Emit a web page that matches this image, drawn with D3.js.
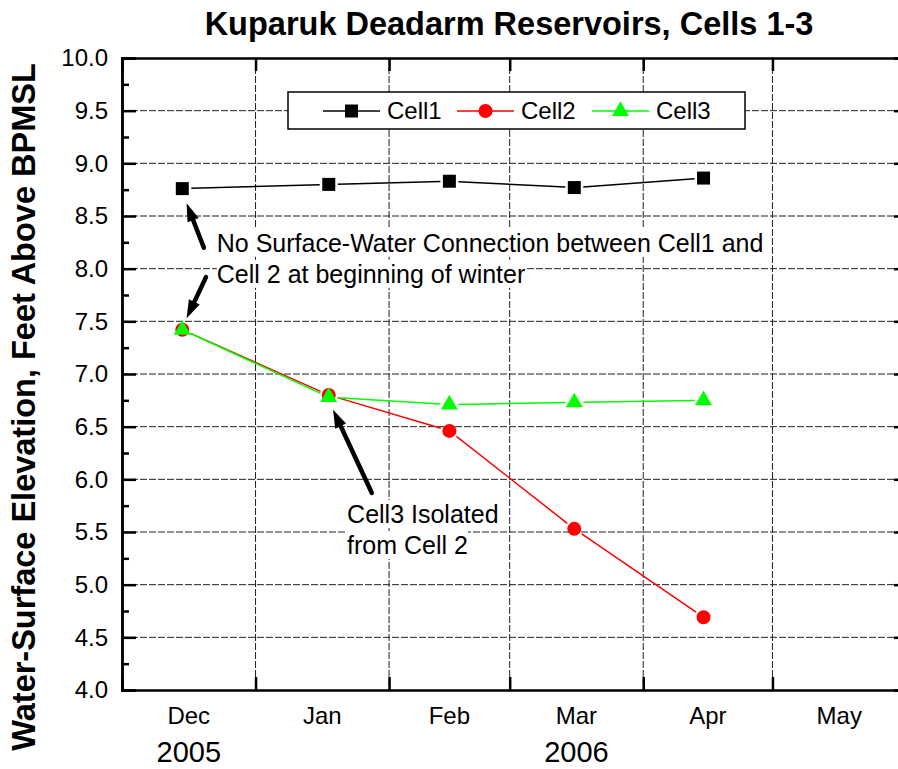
<!DOCTYPE html>
<html>
<head>
<meta charset="utf-8">
<script src="https://cdn.jsdelivr.net/npm/d3@7"></script>
<style>
  body { margin: 0; background: #fff; }
  svg { display: block; font-family: "Liberation Sans", Arial, sans-serif; }
</style>
</head>
<body>
<div id="chart"></div>
<script>
// values
var sampleDates = ["2005-12-15", "2006-01-18", "2006-02-15", "2006-03-16", "2006-04-15"];
var cell1 = [8.76, 8.80, 8.83, 8.77, 8.86];
var cell2 = [7.42, 6.80, 6.46, 5.53, 4.69];
var cell3 = [7.42, 6.78, 6.71, 6.73, 6.75];
var seriesNames = ["Cell1", "Cell2", "Cell3"];
var monthLabels = ["Dec", "Jan", "Feb", "Mar", "Apr", "May"];
var yearLabels = ["2005", "2006"];
var yearUnder = ["Dec", "Mar"];

// annotations, in data units
var note1Lines = ["No Surface-Water Connection between Cell1 and", "Cell 2 at beginning of winter"];
var note1At = ["2005-12-23T00:00Z", 8.16];
var note2Lines = ["Cell3 Isolated", "from Cell 2"];
var note2At = ["2006-01-22T06:00Z", 5.585];
var arrows = [
  { from: ["2005-12-20T00:00Z", 8.20], to: ["2005-12-16T00:00Z", 8.62] },
  { from: ["2005-12-20T12:00Z", 7.92], to: ["2005-12-16T00:00Z", 7.53] },
  { from: ["2006-01-28T00:00Z", 5.87], to: ["2006-01-19T00:00Z", 6.66] }
];

//create svg canvas
var svgWidth = 898;
var svgHeight = 769;
var margin = { top: 58, right: -8, bottom: 79, left: 122 };
var width = svgWidth - margin.left - margin.right;
var height = svgHeight - margin.top - margin.bottom;

var svg = d3.select("#chart")
  .append("svg")
  .attr("width", svgWidth)
  .attr("height", svgHeight);

var chartGroup = svg.append("g")
  .attr("transform", `translate(${margin.left}, ${margin.top})`);

// scales
var xScale = d3.scaleUtc()
  .domain([new Date("2005-12-01"), new Date("2006-06-01")])
  .range([0, width]);

var yScale = d3.scaleLinear()
  .domain([4, 10])
  .range([height, 0]);

var months = d3.utcMonth.range(new Date("2005-12-01"), new Date("2006-06-01"));
var majorY = d3.range(4, 10.01, 0.5);
var minorY = d3.range(4.25, 10, 0.5);

// gridlines
chartGroup.append("g").selectAll("line")
  .data(months.slice(1))
  .enter()
  .append("line")
  .attr("x1", d => xScale(d))
  .attr("x2", d => xScale(d))
  .attr("y1", 0)
  .attr("y2", height)
  .attr("stroke", "#222")
  .attr("stroke-width", 1)
  .attr("stroke-dasharray", "7,2");

chartGroup.append("g").selectAll("line")
  .data(majorY.slice(1, -1))
  .enter()
  .append("line")
  .attr("x1", 0)
  .attr("x2", width)
  .attr("y1", d => yScale(d))
  .attr("y2", d => yScale(d))
  .attr("stroke", "#222")
  .attr("stroke-width", 1)
  .attr("stroke-dasharray", "7,2");

// axes
var leftAxis = d3.axisLeft(yScale)
  .tickValues(majorY)
  .tickSize(-14)
  .tickPadding(14)
  .tickFormat(d3.format(".1f"));

var leftGroup = chartGroup.append("g").call(leftAxis);
leftGroup.selectAll("text").style("font-size", "24px").attr("fill", "#000");

chartGroup.append("g")
  .call(d3.axisLeft(yScale).tickValues(minorY).tickSize(-7).tickFormat(""));

chartGroup.append("g")
  .attr("transform", `translate(${width}, 0)`)
  .call(d3.axisRight(yScale).tickValues(majorY).tickSize(-12).tickFormat(""));

chartGroup.append("g")
  .attr("transform", `translate(0, ${height})`)
  .call(d3.axisBottom(xScale).tickValues(months).tickSize(-13).tickFormat(""));

chartGroup.append("g")
  .call(d3.axisTop(xScale).tickValues(months).tickSize(-13).tickFormat(""));

chartGroup.selectAll(".domain, .tick line")
  .attr("stroke", "#000")
  .attr("stroke-width", 2.5);

// month labels sit in the middle of each month
chartGroup.selectAll(".monthLabel")
  .data(months)
  .enter()
  .append("text")
  .attr("class", "monthLabel")
  .attr("x", d => (xScale(d) + xScale(d3.utcMonth.offset(d, 1))) / 2)
  .attr("y", height + 34)
  .attr("text-anchor", "middle")
  .style("font-size", "24px")
  .text((d, i) => monthLabels[i]);

chartGroup.selectAll(".yearLabel")
  .data(yearLabels)
  .enter()
  .append("text")
  .attr("class", "yearLabel")
  .attr("x", (d, i) => {
    var m = months[monthLabels.indexOf(yearUnder[i])];
    return (xScale(m) + xScale(d3.utcMonth.offset(m, 1))) / 2;
  })
  .attr("y", height + 72)
  .attr("text-anchor", "middle")
  .style("font-size", "29px")
  .text(d => d);

// series
var series = [
  { name: seriesNames[0], values: cell1, color: "#000000", symbol: d3.symbolSquare, size: 169 },
  { name: seriesNames[1], values: cell2, color: "#ff0000", symbol: d3.symbolCircle, size: 154 },
  { name: seriesNames[2], values: cell3, color: "#00ff00", symbol: d3.symbolTriangle, size: 125 }
];

var gap = 9;
series.forEach(function(s) {
  var pts = s.values.map((v, i) => [xScale(new Date(sampleDates[i])), yScale(v)]);
  var segs = d3.pairs(pts).map(function(p) {
    var dx = p[1][0] - p[0][0], dy = p[1][1] - p[0][1];
    var len = Math.sqrt(dx * dx + dy * dy);
    var ux = dx / len, uy = dy / len;
    return [p[0][0] + ux * gap, p[0][1] + uy * gap, p[1][0] - ux * gap, p[1][1] - uy * gap];
  });
  chartGroup.append("g").selectAll("line")
    .data(segs)
    .enter()
    .append("line")
    .attr("x1", d => d[0]).attr("y1", d => d[1])
    .attr("x2", d => d[2]).attr("y2", d => d[3])
    .attr("stroke", s.color)
    .attr("stroke-width", 1.5);
});

series.forEach(function(s) {
  chartGroup.append("g").selectAll("path")
    .data(s.values)
    .enter()
    .append("path")
    .attr("transform", (d, i) => `translate(${xScale(new Date(sampleDates[i]))}, ${yScale(d)})`)
    .attr("d", d3.symbol().type(s.symbol).size(s.size))
    .attr("fill", s.color);
});

// notes with white backgrounds
function addNote(lines, at) {
  var g = chartGroup.append("g")
    .attr("transform", `translate(${xScale(new Date(at[0]))}, ${yScale(at[1])})`);
  lines.forEach(function(t, i) {
    var bg = g.append("rect").attr("fill", "#fff");
    var txt = g.append("text")
      .attr("x", 0)
      .attr("y", i * 31)
      .style("font-size", "25px")
      .text(t);
    var bb = txt.node().getBBox();
    bg.attr("x", bb.x).attr("y", bb.y).attr("width", bb.width).attr("height", bb.height);
  });
}
addNote(note1Lines, note1At);
addNote(note2Lines, note2At);

// arrows
arrows.forEach(function(a) {
  var x0 = xScale(new Date(a.from[0])), y0 = yScale(a.from[1]);
  var x1 = xScale(new Date(a.to[0])), y1 = yScale(a.to[1]);
  var dx = x1 - x0, dy = y1 - y0;
  var len = Math.sqrt(dx * dx + dy * dy);
  var ux = dx / len, uy = dy / len;
  var headLen = 18, headHalf = 6;
  chartGroup.append("line")
    .attr("x1", x0).attr("y1", y0)
    .attr("x2", x1 - ux * (headLen - 2)).attr("y2", y1 - uy * (headLen - 2))
    .attr("stroke", "#000")
    .attr("stroke-width", 4.5)
    .attr("stroke-linecap", "round");
  var bx = x1 - ux * headLen, by = y1 - uy * headLen;
  chartGroup.append("polygon")
    .attr("points", [[x1, y1], [bx - uy * headHalf, by + ux * headHalf], [bx + uy * headHalf, by - ux * headHalf]].join(" "))
    .attr("fill", "#000");
});

// legend
var legend = svg.append("g");
legend.append("rect")
  .attr("x", 288).attr("y", 92)
  .attr("width", 457).attr("height", 37)
  .attr("fill", "#fff")
  .attr("stroke", "#000")
  .attr("stroke-width", 1.5);

var legendX = [323, 457, 592];
series.forEach(function(s, i) {
  var lx = legendX[i];
  legend.append("line")
    .attr("x1", lx).attr("x2", lx + 57)
    .attr("y1", 111).attr("y2", 111)
    .attr("stroke", s.color)
    .attr("stroke-width", 1.5);
  legend.append("path")
    .attr("transform", `translate(${lx + 28.5}, 111)`)
    .attr("d", d3.symbol().type(s.symbol).size(s.size))
    .attr("fill", s.color);
  legend.append("text")
    .attr("x", lx + 64)
    .attr("y", 111)
    .attr("dy", "0.35em")
    .style("font-size", "24px")
    .text(s.name);
});

// title and y label
svg.append("text")
  .attr("x", 509)
  .attr("y", 35)
  .attr("text-anchor", "middle")
  .style("font-size", "32.5px")
  .style("font-weight", "bold")
  .text("Kuparuk Deadarm Reservoirs, Cells 1-3");

svg.append("text")
  .attr("transform", "translate(35, 407) rotate(-90)")
  .attr("text-anchor", "middle")
  .style("font-size", "32.5px")
  .style("font-weight", "bold")
  .text("Water-Surface Elevation, Feet Above BPMSL");
</script>
</body>
</html>
